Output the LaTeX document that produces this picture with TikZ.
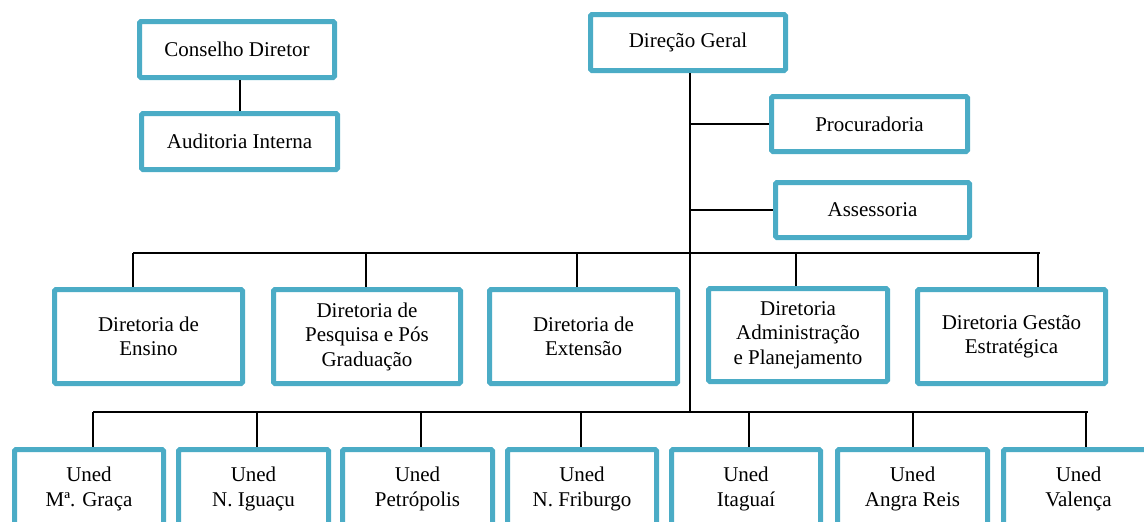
\documentclass[tikz,border=0pt]{standalone}
\usepackage{fontspec}
\setmainfont{Liberation Serif}
\definecolor{boxblue}{HTML}{4BACC6}
\begin{document}
\begin{tikzpicture}[x=1pt,y=-1pt,
  orgbox/.style={draw=boxblue,line width=5pt,rounded corners=1.5pt,fill=white,
    align=center,inner sep=0pt,font=\fontsize{21}{24.5}\selectfont},
  conn/.style={draw=black,line width=2pt}]
\clip (0,0) rectangle (1144,522);
\path[use as bounding box] (0,0) rectangle (1144,522);
% top
\node[orgbox,minimum width=195,minimum height=56] (cons) at (237,49.5) {Conselho Diretor};
\node[orgbox,minimum width=196,minimum height=56] (aud) at (239.5,141.5) {Auditoria Interna};
\node[orgbox,minimum width=195,minimum height=56] (dir) at (688,42.5) {Direção Geral};
\node[orgbox,minimum width=196,minimum height=55] (proc) at (869.5,124) {Procuradoria};
\node[orgbox,minimum width=194,minimum height=55] (ass) at (872.5,210) {Assessoria};
% middle row
\node[orgbox,minimum width=188,minimum height=94] (ens) at (148.5,336.5) {Diretoria de\\Ensino};
\node[orgbox,minimum width=187,minimum height=94] (pesq) at (367,336.5) {Diretoria de\\Pesquisa e Pós\\Graduação};
\node[orgbox,minimum width=188,minimum height=94] (ext) at (583.5,336.5) {Diretoria de\\Extensão};
\node[orgbox,minimum width=179,minimum height=93] (adm) at (798,335) {Diretoria\\Administração\\e Planejamento};
\node[orgbox,minimum width=188,minimum height=94] (gest) at (1011.5,336.5) {Diretoria Gestão\\Estratégica};
% bottom row
\node[orgbox,minimum width=149,minimum height=79] (u1) at (89,489) {Uned\\Mª. Graça};
\node[orgbox,minimum width=150,minimum height=79] (u2) at (253.5,489) {Uned\\N. Iguaçu};
\node[orgbox,minimum width=150,minimum height=79] (u3) at (417.5,489) {Uned\\Petrópolis};
\node[orgbox,minimum width=149,minimum height=79] (u4) at (582,489) {Uned\\N. Friburgo};
\node[orgbox,minimum width=149,minimum height=79] (u5) at (746,489) {Uned\\Itaguaí};
\node[orgbox,minimum width=150,minimum height=79] (u6) at (912.5,489) {Uned\\Angra Reis};
\node[orgbox,minimum width=150,minimum height=79] (u7) at (1078.5,489) {Uned\\Valença};
% connectors
\draw[conn] (aud.north) -- (aud.north |- cons.south);
\coordinate (trunktop) at (690,73);
\coordinate (trunkbot) at (690,412);
\draw[conn] (trunktop) -- (trunkbot);
\draw[conn] (trunktop |- proc.west) -- (proc.west);
\draw[conn] (trunktop |- ass.west) -- (ass.west);
% middle bus
\coordinate (mb1) at (133,253);
\coordinate (mb2) at (366,253);
\coordinate (mb3) at (577,253);
\coordinate (mb4) at (796,253);
\coordinate (mb5) at (1038,253);
\coordinate (mbend) at (1040,253);
\draw[conn] (mb1) -- (mbend);
\draw[conn] (mb1) -- (mb1 |- ens.north);
\draw[conn] (mb2) -- (mb2 |- pesq.north);
\draw[conn] (mb3) -- (mb3 |- ext.north);
\draw[conn] (mb4) -- (mb4 |- adm.north);
\draw[conn] (mb5) -- (mb5 |- gest.north);
% bottom bus
\coordinate (bb1) at (93,412);
\coordinate (bb2) at (257,412);
\coordinate (bb3) at (421,412);
\coordinate (bb4) at (581,412);
\coordinate (bb5) at (749,412);
\coordinate (bb6) at (913,412);
\coordinate (bb7) at (1086,412);
\coordinate (bbend) at (1088,412);
\draw[conn] (bb1) -- (bbend);
\draw[conn] (bb1) -- (bb1 |- u1.north);
\draw[conn] (bb2) -- (bb2 |- u2.north);
\draw[conn] (bb3) -- (bb3 |- u3.north);
\draw[conn] (bb4) -- (bb4 |- u4.north);
\draw[conn] (bb5) -- (bb5 |- u5.north);
\draw[conn] (bb6) -- (bb6 |- u6.north);
\draw[conn] (bb7) -- (bb7 |- u7.north);
\end{tikzpicture}
\end{document}
